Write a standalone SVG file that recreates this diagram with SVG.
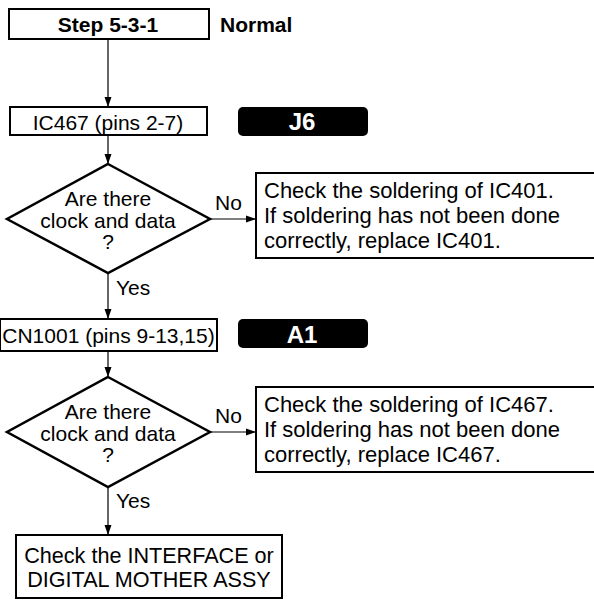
<svg xmlns="http://www.w3.org/2000/svg" width="594" height="600" viewBox="0 0 594 600">
<defs>
<marker id="ah" viewBox="0 0 10 10" refX="10" refY="5" markerWidth="10" markerHeight="10" markerUnits="userSpaceOnUse" orient="auto">
<path d="M0,1.5 L10,5 L0,8.5 Z" fill="#000"/>
</marker>
<style>
.box{fill:#fff;stroke:#000;stroke-width:2}
.dia{fill:#fff;stroke:#000;stroke-width:2.5}
.t{font-family:"Liberation Sans",Arial,sans-serif;font-size:21px;fill:#000}
.l{font-size:22px}
.f{font-size:21.6px}
.b{font-weight:bold}
.m{text-anchor:middle}
.tag{fill:#000}
.tt{font-family:"Liberation Sans",Arial,sans-serif;font-size:24px;font-weight:bold;fill:#fff;text-anchor:middle}
.c{fill:none;stroke:#000;stroke-width:1.2;marker-end:url(#ah)}
</style>
</defs>
<rect width="594" height="600" fill="#fff"/>
<g id="connectors">
<line class="c" x1="108" y1="39" x2="108" y2="107"/>
<line class="c" x1="108" y1="135" x2="108" y2="164"/>
<line class="c" x1="108" y1="273" x2="108" y2="319"/>
<line class="c" x1="108" y1="351" x2="108" y2="377"/>
<line class="c" x1="108" y1="487" x2="108" y2="535"/>
<line class="c" x1="210" y1="219" x2="256" y2="219"/>
<line class="c" x1="210" y1="432" x2="256" y2="432"/>
<text class="t" x="215" y="210">No</text>
<text class="t" x="215" y="423">No</text>
<text class="t" x="116" y="295">Yes</text>
<text class="t" x="116" y="508">Yes</text>
</g>
<g id="step">
<rect class="box" x="9" y="9" width="200" height="30"/>
<text class="t b m" x="108" y="32">Step 5-3-1</text>
<text class="t b" x="220" y="32">Normal</text>
</g>
<g id="ic467">
<rect class="box" x="10" y="107" width="197" height="28"/>
<text class="t m" x="108" y="130">IC467 (pins 2-7)</text>
</g>
<g id="tagJ6">
<rect class="tag" x="238" y="107" width="130" height="29" rx="5"/>
<text class="tt" x="302" y="130">J6</text>
</g>
<g id="decision1">
<polygon class="dia" points="108,164 210,219 108,273 7,219"/>
<text class="t m" x="108" y="206">Are there</text>
<text class="t m" x="108" y="228">clock and data</text>
<text class="t m" x="108" y="249">?</text>
</g>
<g id="check401">
<path class="box" d="M600,173 H256 V258 H600"/>
<text class="t l" x="264" y="198">Check the soldering of IC401.</text>
<text class="t l" x="264" y="223">If soldering has not been done</text>
<text class="t l" x="264" y="248">correctly, replace IC401.</text>
</g>
<g id="cn1001">
<rect class="box" x="0" y="319" width="217" height="32"/>
<text class="t m" x="108.5" y="343">CN1001 (pins 9-13,15)</text>
</g>
<g id="tagA1">
<rect class="tag" x="238" y="319" width="130" height="29" rx="5"/>
<text class="tt" x="302" y="343">A1</text>
</g>
<g id="decision2">
<polygon class="dia" points="108,377 210,432 108,487 7,432"/>
<text class="t m" x="108" y="419">Are there</text>
<text class="t m" x="108" y="441">clock and data</text>
<text class="t m" x="108" y="462">?</text>
</g>
<g id="check467">
<path class="box" d="M600,387 H256 V472 H600"/>
<text class="t l" x="264" y="412">Check the soldering of IC467.</text>
<text class="t l" x="264" y="437">If soldering has not been done</text>
<text class="t l" x="264" y="462">correctly, replace IC467.</text>
</g>
<g id="final">
<rect class="box" x="16" y="535" width="266" height="63"/>
<text class="t f m" x="149" y="563">Check the INTERFACE or</text>
<text class="t f m" x="149" y="587">DIGITAL MOTHER ASSY</text>
</g>
</svg>
